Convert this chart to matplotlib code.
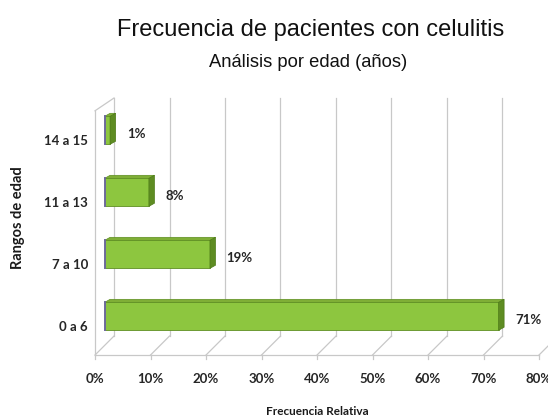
import matplotlib
matplotlib.use("Agg")
import matplotlib.pyplot as plt
from matplotlib.patches import Polygon

# data
categorias = ["0 a 6", "7 a 10", "11 a 13", "14 a 15"]
frecuencia = [71, 19, 8, 1]          # %
ticks_x = [0, 10, 20, 30, 40, 50, 60, 70, 80]
ticks_lbl = ["0%", "10%", "20%", "30%", "40%", "50%", "60%", "70%", "80%"]

plt.rcParams['font.family'] = ['Lato', 'DejaVu Sans']

fig = plt.figure(figsize=(5.48, 4.19), dpi=100)
ax = fig.add_axes([0.1734, 0.1527, 0.8102, 0.6134])

y0, y1 = -0.47, 3.675
ax.set_xlim(0, 80)
ax.set_ylim(y0, y1)

# oblique depth offset (data units)
dx, dy = 3.42, 0.306
grid_c = "#c8c8c8"

# back wall grid + floor
for g in ticks_x:
    ax.plot([g + dx, g + dx], [y0 + dy, y1], color=grid_c, lw=0.9, clip_on=False)
    ax.plot([g, g + dx], [y0, y0 + dy], color=grid_c, lw=0.9, clip_on=False)
    ax.plot([g, g], [y0, y0 - 0.06], color=grid_c, lw=0.9, clip_on=False)
ax.plot([0, 80], [y0, y0], color=grid_c, lw=0.9, clip_on=False)
# left wall
ax.plot([0, 0], [y0, y1 - dy + 0.1], color=grid_c, lw=0.9, clip_on=False)
ax.plot([0, dx], [y1 - dy + 0.1, y1], color=grid_c, lw=0.9, clip_on=False)

# bars, drawn at mid depth
h = 0.45
top_d = 0.05
sd = 1.0
for i, v in enumerate(frecuencia):
    bx = dx / 2
    by = i + dy / 2 - h / 2
    ax.barh(i + dy / 2, v, height=h, left=bx, color="#8dc63f",
            edgecolor="#5f8f22", linewidth=0.6, zorder=3)
    top = Polygon([(bx, by + h), (bx + v, by + h),
                   (bx + v + sd, by + h + top_d), (bx + sd, by + h + top_d)],
                  closed=True, facecolor="#7fae36", edgecolor="#5f8f22",
                  linewidth=0.5, zorder=3)
    side = Polygon([(bx + v, by), (bx + v + sd, by + top_d),
                    (bx + v + sd, by + h + top_d), (bx + v, by + h)],
                   closed=True, facecolor="#5e8c22", edgecolor="#4d7a18",
                   linewidth=0.5, zorder=3)
    ax.add_patch(top)
    ax.add_patch(side)
    ax.plot([bx, bx], [by, by + h], color="#6d6a9a", lw=1.4, zorder=4)
    ax.text(bx + v + 3.0, i + dy / 2 - 0.06, f"{v}%", fontsize=9.5,
            fontweight="bold", color="#262626", ha="left", va="center")

ax.set_xticks(ticks_x)
ax.set_xticklabels(ticks_lbl)
ax.set_yticks(range(len(categorias)))
ax.set_yticklabels(categorias)
ax.tick_params(axis="x", length=0, pad=13, labelsize=9.5, labelcolor="#262626")
ax.tick_params(axis="y", length=0, pad=5, labelsize=9.5, labelcolor="#262626")
for lbl in ax.get_xticklabels() + ax.get_yticklabels():
    lbl.set_fontweight("bold")
for s in ax.spines.values():
    s.set_visible(False)

ax.set_xlabel("Frecuencia Relativa", fontsize=8.5, fontweight="bold", color="#1a1a1a")
ax.xaxis.set_label_coords(0.5, -0.2)
ax.set_ylabel("Rangos de edad", fontsize=10.5, fontweight="bold", color="#1a1a1a")
ax.yaxis.set_label_coords(-0.158, 0.535)

sans = ['Liberation Sans', 'DejaVu Sans']
fig.text(0.566, 0.928, "Frecuencia de pacientes con celulitis", fontsize=17,
         family=sans, ha="center", va="center", color="#111111")
fig.text(0.562, 0.852, "Análisis por edad (años)", fontsize=13.2,
         family=sans, ha="center", va="center", color="#111111")

fig.savefig("out.png", dpi=100)
